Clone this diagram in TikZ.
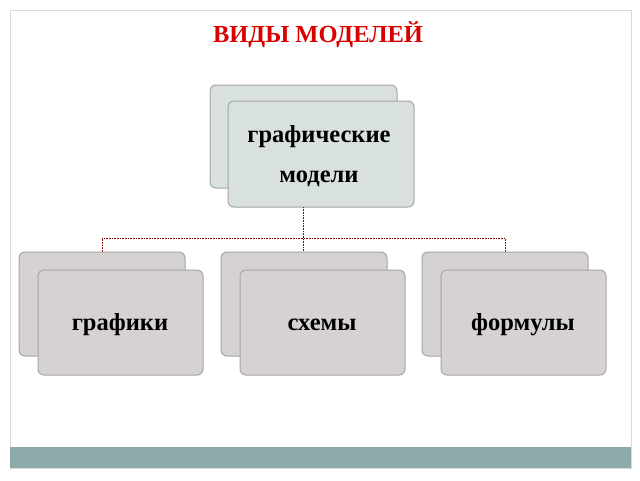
\documentclass[tikz,border=0pt]{standalone}
\usepackage{fontspec}
\setmainfont{Liberation Serif}
\begin{document}
\begin{tikzpicture}[x=1pt,y=-1pt,
  card/.style={draw=gray!70,rounded corners=6pt,line width=1pt,fill=boxgray},
  topcard/.style={card,fill=boxgreen},
  lbl/.style={font=\bfseries\fontsize{24.5}{40}\selectfont,align=center},
  conn/.style={draw=red!55!black,densely dotted,line width=0.6pt}]
\definecolor{boxgray}{HTML}{D5D2D1}
\definecolor{boxgreen}{HTML}{D8E1DB}
\definecolor{barcol}{HTML}{8CAAAA}
\useasboundingbox (0,0) rectangle (640,480);
\fill[white] (0,0) rectangle (640,480);
\draw[gray!30] (10,10) rectangle (631,468);
\fill[barcol] (10,447) rectangle (631,468);
\node[text=red!85!black,font=\bfseries\fontsize{24.5}{28}\selectfont] (title) at (318,35) {ВИДЫ МОДЕЛЕЙ};
% top
\draw[topcard] (210,85) rectangle (397,188);
\draw[topcard] (228,101) rectangle (414,207);
\node[lbl] (top) at (319,156) {графические\\модели};
% connectors
\coordinate (tb) at (303,207);
\coordinate (jl) at (102,238);
\coordinate (jr) at (505,238);
\coordinate (el) at (102,252);
\coordinate (em) at (303,252);
\coordinate (er) at (505,252);
\draw[conn] (tb) -- (em);
\draw[conn] (el) -- (jl) -- (jr) -- (er);
% bottom
\foreach \x/\t/\n in {19/графики/a,221/схемы/b,422/формулы/c}{
  \draw[card] (\x,252) rectangle ++(166,104);
  \draw[card] (\x+19,270) rectangle ++(165,105);
  \node[lbl] (\n) at (\x+101,325) {\t};
}
\end{tikzpicture}
\end{document}
